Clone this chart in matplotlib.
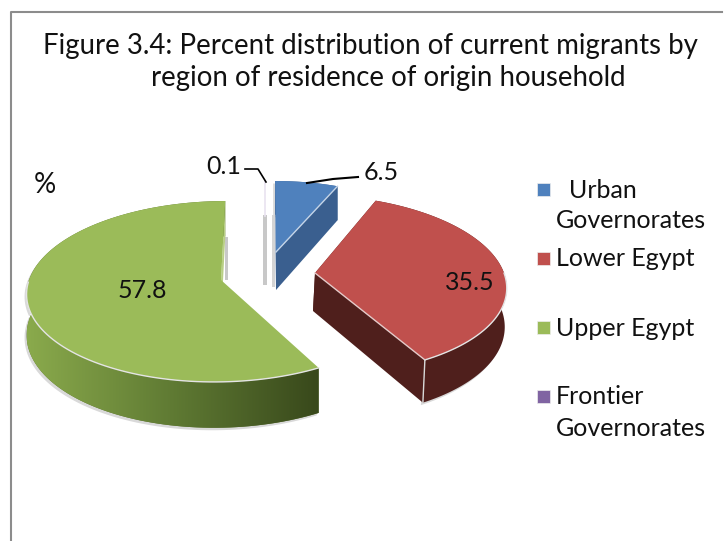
import numpy as np
import matplotlib
matplotlib.use('Agg')
import matplotlib.pyplot as plt
from matplotlib.patches import Polygon, Rectangle

# Data
labels = ['Urban\nGovernorates', 'Lower Egypt', 'Upper Egypt', 'Frontier\nGovernorates']
values = [6.5, 35.5, 57.8, 0.1]
value_text = ['6.5', '35.5', '57.8', '0.1']
title_lines = ['Figure 3.4: Percent distribution of current migrants by',
               'region of residence of origin household']

top_colors = ['#4f81bd', '#c0504d', '#9bbb59', '#e9e3f0']
side_colors = ['#3a5f8f', '#4f1f1c', '#5a7030', '#c8c8c8']

# apex x, apex y, a, b, shear, depth, depth shift
slices = [
    (276, 252, 175, 80, -1, 38, 0),
    (315, 273, 189, 88, -8, 38, -2),
    (221, 280, 192, 89, 6, 40, 0),
    (266, 252, 175, 80, 0, 34, 0),
]
persp = 0.127
plt.rcParams['font.family'] = ['Lato', 'DejaVu Sans']

fig = plt.figure(figsize=(7.27, 5.41), dpi=100)
ax = fig.add_axes([0, 0, 1, 1])
ax.set_xlim(0, 727)
ax.set_ylim(541, 0)
ax.axis('off')

# border
ax.plot([11, 11, 722], [541, 12, 12], color='#8c8c8c', lw=1.5)


def project(theta, s):
    u, v = np.sin(theta), np.cos(theta)
    w = 1 + persp * v
    return s[0] + (s[2] * u + s[4] * v) / w, s[1] - s[3] * v / w, s[5] / w


total = sum(values)
start = 0.0
for i, val in enumerate(values):
    end = start + val / total * 2 * np.pi
    s = slices[i]
    th = np.linspace(start, end, 120)
    x, y, d = project(th, s)
    xb, yb = x + s[6], y + d
    ax0, ay0 = s[0], s[1]
    bx0, by0 = s[0] + s[6], s[1] + s[5]

    # shadow and outer wall
    if val > 1:
        sx = np.r_[x, xb[::-1]]
        sy = np.r_[y, yb[::-1]]
        ax.add_patch(Polygon(np.c_[sx - 2, sy + 2.5], fc='#d9d9d9', ec='none', zorder=1))
        wall = Polygon(np.c_[sx, sy], fc=side_colors[i], ec='none', zorder=2)
        ax.add_patch(wall)
        if i == 2:
            # green wall runs from light to dark
            grad = np.linspace(0, 1, 256).reshape(1, -1)
            cm = matplotlib.colors.LinearSegmentedColormap.from_list('g', ['#8aaa4c', '#5f7a33', '#38481b'])
            im = ax.imshow(grad, cmap=cm, extent=[27, 320, 430, 280], aspect='auto', zorder=2.1)
            im.set_clip_path(wall)
            ax.set_xlim(0, 727)
            ax.set_ylim(541, 0)

        # cut faces, the green one only shows at the back
        for k in (0, -1):
            if i == 2 and k == 0:
                continue
            face = [(ax0, ay0), (x[k], y[k]), (xb[k], yb[k]), (bx0, by0)]
            col = side_colors[i] if i != 2 else '#b9cf85'
            ax.add_patch(Polygon(face, fc=col, ec='none', zorder=2.2))

    # top surface
    tx = np.r_[ax0, x]
    ty = np.r_[ay0, y]
    if val > 1:
        ax.add_patch(Polygon(np.c_[tx, ty], fc=top_colors[i], ec='none', zorder=3))
        front = (th > np.pi / 2) & (th < 1.5 * np.pi)
        ax.plot(x[front], y[front], color='#e4e4e4', lw=1, zorder=3.5)
    else:
        ax.plot([x[0], x[0]], [y[0], ay0 - 36], color=top_colors[i], lw=1.2, zorder=3)
    start = end

# white lines on the cut edges
red = slices[1]
rx, ry, rd = project(values[0] / total * 2 * np.pi + values[1] / total * 2 * np.pi, red)
ax.plot([red[0], rx], [red[1], ry], color='#e4c9c8', lw=1, zorder=3.6)
ax.plot([rx, rx + red[6]], [ry, ry + rd], color='#d8d8d8', lw=1, zorder=3.6)
blue = slices[0]
bx, by, bd = project(values[0] / total * 2 * np.pi, blue)
ax.plot([blue[0], bx], [blue[1], by], color='#c5d5e8', lw=1, zorder=3.6)

# thin frontier slice shadows
ax.add_patch(Rectangle((263, 215), 4, 70, fc='#c8c8c8', ec='none', zorder=1))
ax.add_patch(Rectangle((272, 215), 3, 72, fc='#d4d4d4', ec='none', zorder=1))
ax.add_patch(Rectangle((225, 237), 3, 43, fc='#c8c8c8', ec='none', zorder=1))

# leader lines
ax.plot([245, 258, 266], [169, 169, 182], color='black', lw=1.2, zorder=5)
ax.plot([307, 333, 358], [183, 179, 177], color='black', lw=1.5, zorder=5)

# text
fs = 18
ax.text(370.5, 46, title_lines[0], ha='center', va='center', fontsize=19.9, color='#111111')
ax.text(388.5, 78, title_lines[1], ha='center', va='center', fontsize=19.9, color='#111111')
ax.text(45, 185, '%', ha='center', va='center', fontsize=20, color='#111111')
ax.text(224, 167, value_text[3], ha='center', va='center', fontsize=fs, color='#111111')
ax.text(381, 172, value_text[0], ha='center', va='center', fontsize=fs, color='#111111')
ax.text(142, 290, value_text[2], ha='center', va='center', fontsize=fs, color='#111111', zorder=6)
ax.text(470, 283, value_text[1], ha='center', va='center', fontsize=fs, color='#111111', zorder=6)

# legend
leg_y = [189, 258, 327, 396]
leg_cols = ['#4f81bd', '#c0504d', '#9bbb59', '#8064a2']
for lab, yy, col in zip(labels, leg_y, leg_cols):
    ax.add_patch(Rectangle((537, yy - 6.5), 12.5, 13, fc=col, ec='#eeeeee', lw=0.5, zorder=4))
    parts = lab.split('\n')
    if parts[0] == 'Urban':
        ax.text(569, yy + 1, parts[0], va='center', fontsize=fs, color='#111111')
        ax.text(556, yy + 32, parts[1], va='center', fontsize=fs, color='#111111')
    elif len(parts) == 2:
        ax.text(556, yy + 1, parts[0], va='center', fontsize=fs, color='#111111')
        ax.text(556, yy + 33, parts[1], va='center', fontsize=fs, color='#111111')
    else:
        ax.text(556, yy + 1, parts[0], va='center', fontsize=fs, color='#111111')

fig.savefig('out.png', dpi=100)
